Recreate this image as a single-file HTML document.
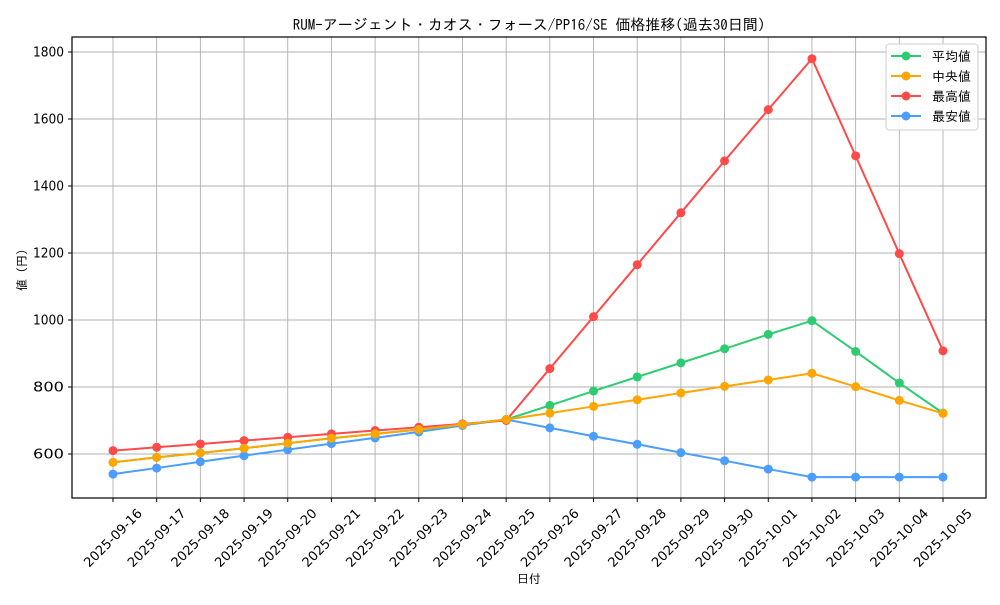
<!DOCTYPE html>
<html><head><meta charset="utf-8"><style>
html,body{margin:0;padding:0;background:#fff;}
svg text{font-family:"IPAGothic","Liberation Sans","Noto Sans CJK JP",sans-serif;fill:#000;}
svg text.t{font-family:"DejaVu Sans","Liberation Sans",sans-serif;}
</style></head><body>
<svg id="c" width="1000" height="600" xmlns="http://www.w3.org/2000/svg">
<rect width="1000" height="600" fill="#fff"/>
<text x="529" y="30" font-size="15" text-anchor="middle">RUM-アージェント・カオス・フォース/PP16/SE 価格推移(過去30日間)</text>
<text x="529" y="583" font-size="12" text-anchor="middle">日付</text>
<text transform="translate(26,270) rotate(-90)" font-size="12" text-anchor="middle">値 (円)</text>
<g id="g"></g>
<rect x="72" y="37" width="914" height="461" fill="none" stroke="#000" stroke-width="1.2"/>
<g>
<rect x="886" y="44" width="92" height="86" rx="3" fill="#fff" fill-opacity="0.85" stroke="#ccc"/>
<line x1="891" x2="921" y1="56" y2="56" stroke="#2ecc71" stroke-width="2"/><circle cx="906" cy="56" r="4.5" fill="#2ecc71"/><text x="932" y="61" font-size="13">平均値</text>
<line x1="891" x2="921" y1="76" y2="76" stroke="#ffa500" stroke-width="2"/><circle cx="906" cy="76" r="4.5" fill="#ffa500"/><text x="932" y="81" font-size="13">中央値</text>
<line x1="891" x2="921" y1="96" y2="96" stroke="#ff4a4a" stroke-width="2"/><circle cx="906" cy="96" r="4.5" fill="#ff4a4a"/><text x="932" y="101" font-size="13">最高値</text>
<line x1="891" x2="921" y1="116" y2="116" stroke="#4a9eff" stroke-width="2"/><circle cx="906" cy="116" r="4.5" fill="#4a9eff"/><text x="932" y="121" font-size="13">最安値</text>
</g>
</svg>
<script>
var g=document.getElementById('g'),h='';
function X(i){return 113+i*43.684;}
function Y(v){return 454-(v-600)*0.335;}
for(var v=600;v<=1800;v+=200){var y=Y(v);h+='<line x1="72" x2="986" y1="'+y+'" y2="'+y+'" stroke="#b0b0b0" stroke-width="0.9"/><line x1="68" x2="72" y1="'+y+'" y2="'+y+'" stroke="#000"/><text class="t" x="64" y="'+(y+4.5)+'" font-size="13" text-anchor="end" textLength="31" lengthAdjust="spacingAndGlyphs">'+v+'</text>';}
var dates=[];for(var d=16;d<=30;d++)dates.push('2025-09-'+d);for(d=1;d<=5;d++)dates.push('2025-10-0'+d);
for(var i=0;i<20;i++){var x=X(i);h+='<line x1="'+x+'" x2="'+x+'" y1="37" y2="498" stroke="#b0b0b0" stroke-width="0.9"/><line x1="'+x+'" x2="'+x+'" y1="498" y2="502" stroke="#000"/><text class="t" transform="translate('+(x+3)+',541) rotate(-45)" font-size="13" text-anchor="middle" textLength="76" lengthAdjust="spacingAndGlyphs">'+dates[i]+'</text>';}
var S=[
['#4a9eff',[540,558,577,595,613,631,648,666,685,703,678,653,629,604,580,555,531,531,531,531]],
['#ff4a4a',[610,620,630,640,650,660,670,680,690,700,855,1010,1165,1320,1475,1628,1780,1490,1198,908]],
['#2ecc71',[575,590,603,617,632,647,660,673,688,703,745,788,830,872,914,957,998,906,812,722]],
['#ffa500',[575,590,603,617,632,647,660,673,688,703,722,742,762,782,802,821,841,801,760,721]]];
S.forEach(function(s){var p=s[1].map(function(v,i){return X(i)+','+Y(v);}).join(' ');
h+='<polyline points="'+p+'" fill="none" stroke="'+s[0]+'" stroke-width="2"/>';
s[1].forEach(function(v,i){h+='<circle cx="'+X(i)+'" cy="'+Y(v)+'" r="4.5" fill="'+s[0]+'"/>';});});
g.innerHTML=h;
</script>
</body></html>
